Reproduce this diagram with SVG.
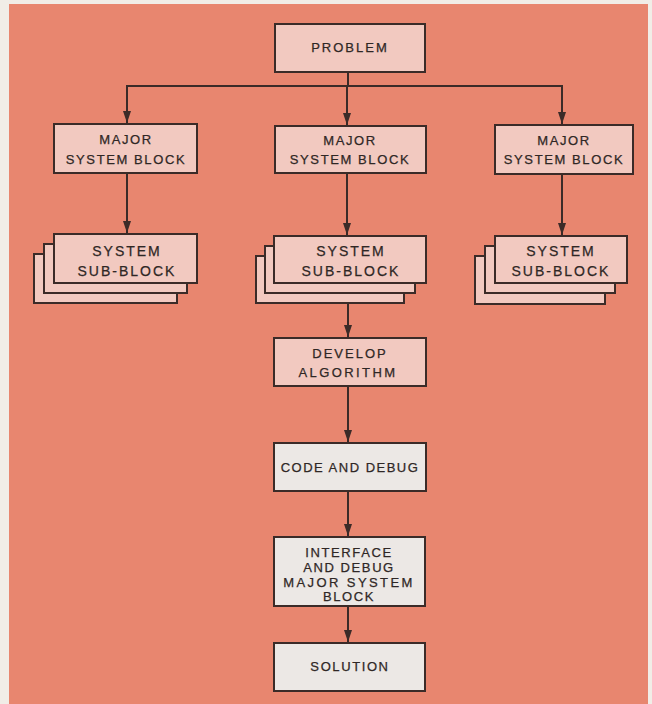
<svg xmlns="http://www.w3.org/2000/svg" width="652" height="704" viewBox="0 0 652 704">
<style>
.bx{stroke:#3b2b28;stroke-width:2}
.pk{fill:#f2c9c0}
.gy{fill:#ece8e5}
.ln{stroke:#3b2b28;stroke-width:2;fill:none}
text{font-family:"Liberation Sans",Arial,sans-serif;font-size:13px;fill:#2f2725;stroke:#2f2725;stroke-width:0.25;text-anchor:middle;letter-spacing:1.6px}
.big{font-size:14px;letter-spacing:2px}
</style>
<defs>
<marker id="ah" markerWidth="12" markerHeight="8" refX="12" refY="4" orient="auto" markerUnits="userSpaceOnUse" viewBox="0 0 12 8">
<path d="M0,0 L12,4 L0,8 Z" fill="#3b2b28"/>
</marker>
</defs>
<rect x="0" y="0" width="652" height="704" fill="#f1ede7"/>
<rect x="9" y="4" width="639" height="700" fill="#e8866f"/>

<g id="connectors">
<line class="ln" x1="348" y1="72" x2="348" y2="86"/>
<line class="ln" x1="126" y1="86" x2="563" y2="86"/>
<line class="ln" x1="127" y1="86" x2="127" y2="123" marker-end="url(#ah)"/>
<line class="ln" x1="347" y1="86" x2="347" y2="125" marker-end="url(#ah)"/>
<line class="ln" x1="562" y1="86" x2="562" y2="124" marker-end="url(#ah)"/>
<line class="ln" x1="127" y1="173" x2="127" y2="233" marker-end="url(#ah)"/>
<line class="ln" x1="347" y1="173" x2="347" y2="235" marker-end="url(#ah)"/>
<line class="ln" x1="562" y1="174" x2="562" y2="235" marker-end="url(#ah)"/>
<line class="ln" x1="348" y1="303" x2="348" y2="337" marker-end="url(#ah)"/>
<line class="ln" x1="348" y1="386" x2="348" y2="442" marker-end="url(#ah)"/>
<line class="ln" x1="348" y1="491" x2="348" y2="536" marker-end="url(#ah)"/>
<line class="ln" x1="348" y1="606" x2="348" y2="642" marker-end="url(#ah)"/>
</g>

<g id="problem">
<rect class="bx pk" x="275" y="24" width="150" height="48"/>
<text x="350" y="52" style="letter-spacing:2px">PROBLEM</text>
</g>

<g id="major1">
<rect class="bx pk" x="54" y="124" width="143" height="49"/>
<text x="126" y="144">MAJOR</text>
<text x="126" y="164">SYSTEM BLOCK</text>
</g>
<g id="major2">
<rect class="bx pk" x="275" y="126" width="151" height="47"/>
<text x="350" y="145">MAJOR</text>
<text x="350" y="164">SYSTEM BLOCK</text>
</g>
<g id="major3">
<rect class="bx pk" x="495" y="125" width="138" height="49"/>
<text x="564" y="145">MAJOR</text>
<text x="564" y="164">SYSTEM BLOCK</text>
</g>

<g id="sub1">
<rect class="bx pk" x="34" y="254" width="143" height="49"/>
<rect class="bx pk" x="44" y="244" width="143" height="49"/>
<rect class="bx pk" x="54" y="234" width="143" height="49"/>
<text class="big" x="127" y="256">SYSTEM</text>
<text class="big" x="127" y="276">SUB-BLOCK</text>
</g>
<g id="sub2">
<rect class="bx pk" x="256" y="256" width="148" height="47"/>
<rect class="bx pk" x="265" y="246" width="150" height="47"/>
<rect class="bx pk" x="274" y="236" width="152" height="47"/>
<text class="big" x="351" y="256">SYSTEM</text>
<text class="big" x="351" y="276">SUB-BLOCK</text>
</g>
<g id="sub3">
<rect class="bx pk" x="475" y="256" width="130" height="48"/>
<rect class="bx pk" x="485" y="246" width="130" height="47"/>
<rect class="bx pk" x="495" y="236" width="132" height="47"/>
<text class="big" x="561" y="256">SYSTEM</text>
<text class="big" x="561" y="276">SUB-BLOCK</text>
</g>

<g id="develop">
<rect class="bx pk" x="274" y="338" width="152" height="48"/>
<text x="350" y="358" style="letter-spacing:2px">DEVELOP</text>
<text x="348" y="377" style="letter-spacing:2.4px">ALGORITHM</text>
</g>

<g id="code">
<rect class="bx gy" x="274" y="443" width="152" height="48"/>
<text x="350" y="472" style="letter-spacing:1.5px">CODE AND DEBUG</text>
</g>

<g id="interface">
<rect class="bx gy" x="274" y="537" width="151" height="69"/>
<text x="349" y="557">INTERFACE</text>
<text x="349" y="572">AND DEBUG</text>
<text x="349" y="587" style="letter-spacing:2.4px">MAJOR SYSTEM</text>
<text x="349" y="601">BLOCK</text>
</g>

<g id="solution">
<rect class="bx gy" x="274" y="643" width="151" height="48"/>
<text x="350" y="671">SOLUTION</text>
</g>
</svg>
